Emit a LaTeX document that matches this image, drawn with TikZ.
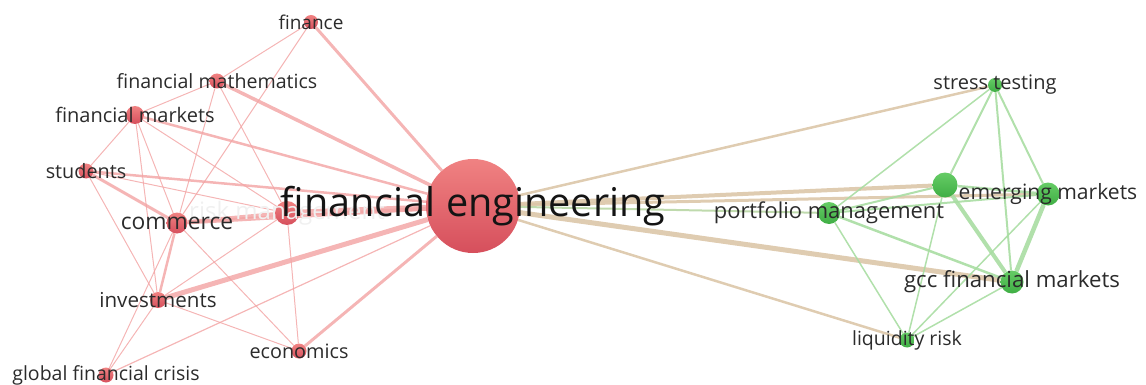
\documentclass[tikz,border=0pt]{standalone}
\usepackage{fontspec}
\setmainfont{Open Sans}
\usepackage{tikz}
\usetikzlibrary{backgrounds}
\usepackage{xcolor}

\definecolor{noeudRh}{HTML}{F08282}
\definecolor{noeudRb}{HTML}{D64F5C}
\definecolor{noeudVh}{HTML}{66CC66}
\definecolor{noeudVb}{HTML}{3FAE44}
\definecolor{lienR}{HTML}{F2A3A3}
\definecolor{lienV}{HTML}{A8DDA2}
\definecolor{lienM}{HTML}{DCC6A8}
\definecolor{texte}{HTML}{2B2B2B}
\newcommand{\taille}[1]{\fontsize{#1}{#1}\selectfont}

\begin{document}
\begin{tikzpicture}[x=1pt, y=-1pt]
\tikzstyle{mot}=[circle, inner sep=0pt, draw=none]
\tikzstyle{rouge}=[mot, top color=noeudRh, bottom color=noeudRb]
\tikzstyle{vert}=[mot, top color=noeudVh, bottom color=noeudVb]
\tikzstyle{etiq}=[text=texte, inner sep=0pt]
% liens: rouge, vert, et entre les deux groupes
\tikzstyle{lr}=[draw=lienR, opacity=.8]
\tikzstyle{lv}=[draw=lienV, opacity=.9]
\tikzstyle{lm}=[draw=lienM, opacity=.9]

\useasboundingbox (0,0) rectangle (1146,385);

% groupe rouge
\node[rouge, minimum size=24pt,
      label={[etiq, text=black!6, font=\taille{24}]center:risk management}] (rm) at (287,213) {};
\node[rouge, minimum size=14pt, label={[etiq, font=\taille{19}]center:finance}] (fin) at (311,22) {};
\node[rouge, minimum size=15pt, label={[etiq, font=\taille{19.6}]center:financial mathematics}] (math) at (217,81) {};
\node[rouge, minimum size=18pt, label={[etiq, font=\taille{20}]center:financial markets}] (marches) at (135,115) {};
\node[rouge, minimum size=15pt, label={[etiq, font=\taille{19.8}]center:students}] (etud) at (86,171) {};
\node[rouge, minimum size=21pt, label={[etiq, font=\taille{22.8}]center:commerce}] (comm) at (177,223) {};
\node[rouge, minimum size=16pt, label={[etiq, font=\taille{20.6}]center:investments}] (inv) at (158,300) {};
\node[rouge, minimum size=15pt, label={[etiq, font=\taille{19.8}]center:economics}] (eco) at (299,351) {};
\node[rouge, minimum size=15pt, label={[etiq, font=\taille{19.5}]center:global financial crisis}] (crise) at (106,375) {};
\node[rouge, minimum size=94pt, label={[etiq, text=black!92, font=\taille{39.6}]center:financial engineering}] (fe) at (473,206) {};

% groupe vert
\node[vert, minimum size=14pt, label={[etiq, font=\taille{20}]center:stress testing}] (stress) at (995,85) {};
\node[vert, minimum size=25pt] (n7) at (945,185) {};
\node[vert, minimum size=23pt, label={[etiq, font=\taille{21.1}]center:emerging markets}] (emerg) at (1048,194) {};
\node[vert, minimum size=22pt, label={[etiq, font=\taille{21.9}]center:portfolio management}] (port) at (829,213) {};
\node[vert, minimum size=23pt, label={[etiq, font=\taille{22.2}]center:gcc financial markets}] (gcc) at (1012,282) {};
\node[vert, minimum size=15pt, label={[etiq, font=\taille{19.5}]center:liquidity risk}] (liq) at (907,340) {};

\begin{pgfonlayer}{background}
\path
    (fe) edge[lr, line width=6] (rm)
    (fe) edge[lr, line width=4] (comm)
    (fe) edge[lr, line width=5] (inv)
    (fe) edge[lr, line width=3.5] (math)
    (fe) edge[lr, line width=3] (fin)
    (fe) edge[lr, line width=2.5] (etud)
    (fe) edge[lr, line width=2.5] (marches)
    (fe) edge[lr, line width=3] (eco)
    (fe) edge[lr, line width=1.2] (crise)
    (rm) edge[lr, line width=4] (comm)
    (rm) edge[lr, line width=1] (etud)
    (rm) edge[lr, line width=1] (math)
    (rm) edge[lr, line width=1] (marches)
    (rm) edge[lr, line width=1] (inv)
    (rm) edge[lr, line width=1] (eco)
    (fin) edge[lr, line width=1] (math)
    (fin) edge[lr, line width=1] (comm)
    (math) edge[lr, line width=1] (marches)
    (math) edge[lr, line width=1] (comm)
    (marches) edge[lr, line width=1] (etud)
    (marches) edge[lr, line width=1] (comm)
    (marches) edge[lr, line width=1] (inv)
    (etud) edge[lr, line width=3] (comm)
    (etud) edge[lr, line width=1] (inv)
    (comm) edge[lr, line width=2.5] (inv)
    (comm) edge[lr, line width=1] (eco)
    (comm) edge[lr, line width=1] (crise)
    (inv) edge[lr, line width=1] (eco)
    (inv) edge[lr, line width=1] (crise);
\path
    (fe) edge[lm, line width=2.5] (stress)
    (fe) edge[lm, line width=4] (n7)
    (fe) edge[lm, line width=3] (emerg)
    (fe) edge[lm, line width=2, draw=lienV!70!lienM] (port)
    (fe) edge[lm, line width=5] (gcc)
    (fe) edge[lm, line width=2.5] (liq);
\path
    (stress) edge[lv, line width=1.5] (port)
    (stress) edge[lv, line width=2] (n7)
    (stress) edge[lv, line width=2] (gcc)
    (stress) edge[lv, line width=2] (emerg)
    (n7) edge[lv, line width=2.5] (emerg)
    (n7) edge[lv, line width=2] (port)
    (n7) edge[lv, line width=4] (gcc)
    (n7) edge[lv, line width=1.5] (liq)
    (emerg) edge[lv, line width=4.5] (gcc)
    (emerg) edge[lv, line width=2] (port)
    (emerg) edge[lv, line width=1.5] (liq)
    (port) edge[lv, line width=2.5] (gcc)
    (port) edge[lv, line width=1.5] (liq)
    (gcc) edge[lv, line width=1.5] (liq);
\end{pgfonlayer}
\end{tikzpicture}
\end{document}
